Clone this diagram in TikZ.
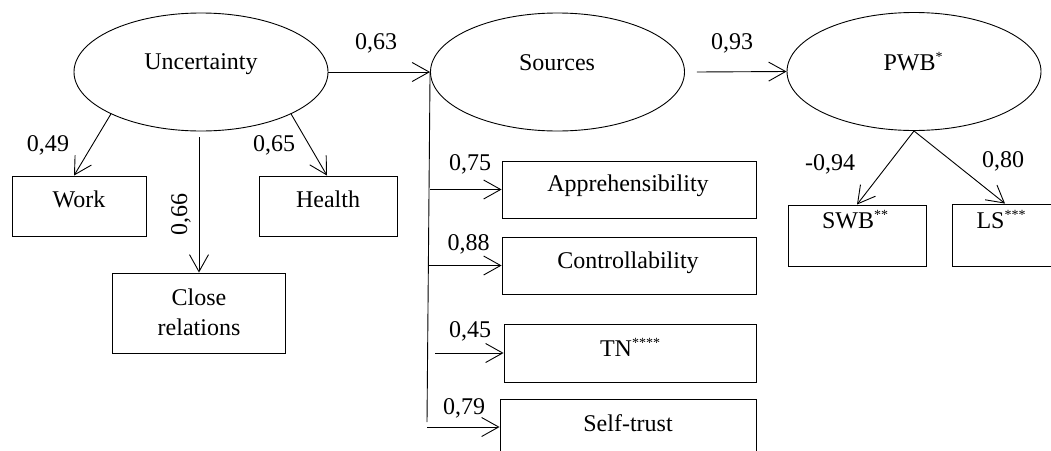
\documentclass[tikz,border=0pt]{standalone}
\usepackage{fontspec}
\setmainfont{Liberation Serif}
\usetikzlibrary{arrows.meta,shapes.geometric}
\newcommand\supast[1]{\raisebox{8.5pt}{\fontsize{14}{14}\selectfont #1}}
\begin{document}
\begin{tikzpicture}[x=1pt,y=-1pt,
  every node/.style={font=\fontsize{24}{30}\selectfont},
  lat/.style={draw,ellipse,line width=0.9pt,inner sep=0pt,minimum width=254pt,minimum height=118pt},
  obs/.style={draw,rectangle,line width=0.9pt,inner sep=0pt},
  txt/.style={inner sep=0pt,anchor=base},
  coef/.style={inner sep=0pt,anchor=base},
  arr/.style={line width=0.9pt,-{Straight Barb[length=17pt,width=19pt,line width=0.9pt]}},
  lnk/.style={line width=0.9pt}]
\useasboundingbox (0,0) rectangle (1051,450);

% latent variables
\node[lat] (u) at (201,72) {};
\node[lat] (s) at (557.5,72) {};
\node[lat] (p) at (914,71.5) {};
\node[txt] (ut) at (201,69) {Uncertainty};
\node[txt] (st) at (557,70) {Sources};
\node[txt] (pt) at (913,70) {PWB\supast{*}};

% observed variables
\node[obs,minimum width=134pt,minimum height=60pt] (w) at (79,206) {};
\node[obs,minimum width=138pt,minimum height=60pt] (h) at (328,206) {};
\node[obs,minimum width=173pt,minimum height=80pt] (c) at (199,313) {};
\node[obs,minimum width=254pt,minimum height=57pt] (ap) at (629,189.5) {};
\node[obs,minimum width=254pt,minimum height=57pt] (co) at (629,265.5) {};
\node[obs,minimum width=252pt,minimum height=58pt] (tn) at (630,353) {};
\node[obs,minimum width=256pt,minimum height=56pt] (sf) at (628,427) {};
\node[obs,minimum width=138pt,minimum height=61pt] (sw) at (857,235.5) {};
\node[obs,minimum width=106pt,minimum height=62pt] (ls) at (1005,235) {};

\node[txt] (wt) at (79,207) {Work};
\node[txt] (ht) at (328,207) {Health};
\node[inner sep=0pt,align=center] (ct) at (199,312) {Close\\relations};
\node[txt] (apt) at (628,191) {Apprehensibility};
\node[txt] (cot) at (628,268) {Controllability};
\node[txt] (tnt) at (630,356) {TN\supast{****}};
\node[txt] (sft) at (628,431) {Self-trust};
\node[txt] (swt) at (855,228) {SWB\supast{**}};
\node[txt] (lst) at (1001,228) {LS\supast{***}};

% structural paths
\draw[arr] (u.east) -- (s.west);
\draw[arr] ([xshift=12pt]s.east) -- (p.west);
\node[coef] (c63) at (376,49) {0,63};
\node[coef] (c93) at (732,49) {0,93};

% uncertainty indicators
\draw[arr] (u.south west) -- ([xshift=-5pt]w.north);
\draw[arr] (u.south east) -- ([xshift=-1pt]h.north);
\draw[arr] ([shift={(-2pt,-6pt)}]u.south) -- (c.north);
\node[coef] (c49) at (48,151) {0,49};
\node[coef] (c65) at (274,151) {0,65};
\node[inner sep=0pt,rotate=90] (c66) at (181,214) {0,66};

% sources indicators
\coordinate (vb) at (427,422);
\draw[lnk] (s.west) -- (vb);
\draw[arr] (ap.west -| s.west) -- (ap.west);
\draw[arr] ([xshift=-1pt]co.west -| s.west) -- (co.west);
\draw[arr] ([xshift=5pt]tn.west -| s.west) -- (tn.west);
\draw[arr] (sf.west -| vb) -- (sf.west);
\node[coef] (c75) at (470,170) {0,75};
\node[coef] (c88) at (468.5,250) {0,88};
\node[coef] (c45) at (470,337) {0,45};
\node[coef] (c79) at (464,414) {0,79};

% PWB indicators
\draw[arr] (p.south) -- (sw.north);
\draw[arr] (p.south) -- (ls.north);
\node[coef] (c94) at (830,170) {-0,94};
\node[coef] (c80) at (1003,167) {0,80};
\end{tikzpicture}
\end{document}
